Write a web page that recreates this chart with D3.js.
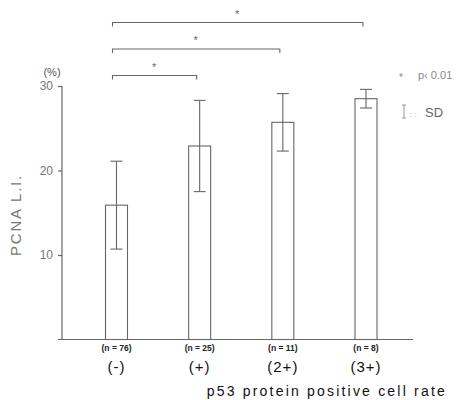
<!DOCTYPE html>
<html>
<head>
<meta charset="utf-8">
<script src="https://cdn.jsdelivr.net/npm/d3@7"></script>
<style>
  body { margin: 0; background: #fff; }
  text { font-family: "Liberation Sans", Arial, sans-serif; }
</style>
</head>
<body>
<div id="chart"></div>
<script>
var w = 460;
var h = 400;

// data
var groups = ["(-)", "(+)", "(2+)", "(3+)"];
var counts = ["(n = 76)", "(n = 25)", "(n = 11)", "(n = 8)"];
var means = [15.9, 22.9, 25.7, 28.5];
var sds = [5.2, 5.4, 3.4, 1.1];
var yTicks = [10, 20, 30];
// significance brackets: [from group, to group]
var pairs = [["(-)", "(3+)"], ["(-)", "(2+)"], ["(-)", "(+)"]];

var ink = "#666";

var svg = d3.select("#chart").append("svg")
  .attr("width", w)
  .attr("height", h);

var y = d3.scaleLinear().domain([0, 30]).range([339.5, 86]);
var x = d3.scalePoint().domain(groups).range([116.5, 366]);
var barW = 22;

// y axis
var yAxis = d3.axisLeft(y).tickValues(yTicks).tickSize(4).tickPadding(5);
var gy = svg.append("g")
  .attr("transform", "translate(62,0)")
  .call(yAxis);
gy.select(".domain").remove();
gy.append("line")
  .attr("x1", 0).attr("x2", 0)
  .attr("y1", y(30)).attr("y2", y(0))
  .attr("stroke", ink).attr("stroke-width", 1.2);
gy.selectAll(".tick line").attr("stroke", ink).attr("stroke-width", 1.2);
gy.selectAll(".tick text")
  .attr("fill", "#777")
  .style("font-size", "12px");

// baseline
svg.append("line")
  .attr("x1", 58).attr("x2", 413)
  .attr("y1", y(0)).attr("y2", y(0))
  .attr("stroke", ink).attr("stroke-width", 1.2);

svg.append("text")
  .attr("x", 52).attr("y", 76)
  .attr("text-anchor", "middle")
  .attr("fill", "#555")
  .style("font-size", "11px")
  .text("(%)");

svg.append("text")
  .attr("transform", "translate(21,215) rotate(-90)")
  .attr("text-anchor", "middle")
  .attr("fill", "#777")
  .style("font-size", "15px")
  .style("letter-spacing", "1.8px")
  .text("PCNA L.I.");

// bars
svg.selectAll("rect.bar")
  .data(means)
  .enter()
  .append("rect")
  .attr("class", "bar")
  .attr("x", function(d, i) { return x(groups[i]) - barW / 2; })
  .attr("y", function(d) { return y(d); })
  .attr("width", barW)
  .attr("height", function(d) { return y(0) - y(d); })
  .attr("fill", "none")
  .attr("stroke", ink)
  .attr("stroke-width", 1.1);

// error bars
var err = svg.selectAll("g.err")
  .data(means)
  .enter()
  .append("g")
  .attr("class", "err");
err.append("line")
  .attr("x1", function(d, i) { return x(groups[i]); })
  .attr("x2", function(d, i) { return x(groups[i]); })
  .attr("y1", function(d, i) { return y(d + sds[i]); })
  .attr("y2", function(d, i) { return y(d - sds[i]); })
  .attr("stroke", ink).attr("stroke-width", 1.1);
[1, -1].forEach(function(s) {
  err.append("line")
    .attr("x1", function(d, i) { return x(groups[i]) - 6; })
    .attr("x2", function(d, i) { return x(groups[i]) + 6; })
    .attr("y1", function(d, i) { return y(d + s * sds[i]); })
    .attr("y2", function(d, i) { return y(d + s * sds[i]); })
    .attr("stroke", ink).attr("stroke-width", 1.1);
});

// group labels
svg.selectAll("text.n")
  .data(counts)
  .enter()
  .append("text")
  .attr("class", "n")
  .attr("x", function(d, i) { return x(groups[i]); })
  .attr("y", 351)
  .attr("text-anchor", "middle")
  .attr("fill", "#222")
  .style("font-size", "8.5px")
  .style("font-weight", "bold")
  .text(function(d) { return d; });

svg.selectAll("text.grp")
  .data(groups)
  .enter()
  .append("text")
  .attr("class", "grp")
  .attr("x", function(d) { return x(d); })
  .attr("y", 372)
  .attr("text-anchor", "middle")
  .attr("fill", "#111")
  .style("font-size", "15px")
  .style("letter-spacing", "1px")
  .text(function(d) { return d; });

svg.append("text")
  .attr("x", 447).attr("y", 396)
  .attr("text-anchor", "end")
  .attr("fill", "#111")
  .style("font-size", "14px")
  .style("letter-spacing", "2.2px")
  .text("p53 protein positive cell rate");

// significance brackets
var bracketY = [22.5, 49, 75.5];
var br = svg.selectAll("g.br")
  .data(pairs)
  .enter()
  .append("g")
  .attr("class", "br");
br.append("path")
  .attr("d", function(d, i) {
    var x0 = x(d[0]) - 4, x1 = x(d[1]) - 3, yy = bracketY[i];
    return "M" + x0 + "," + (yy + 4) + "V" + yy + "H" + x1 + "V" + (yy + 4);
  })
  .attr("fill", "none")
  .attr("stroke", ink)
  .attr("stroke-width", 1.1);
br.append("text")
  .attr("x", function(d) { return (x(d[0]) + x(d[1])) / 2 - 4; })
  .attr("y", function(d, i) { return bracketY[i] - 5; })
  .attr("text-anchor", "middle")
  .attr("fill", "#666")
  .style("font-size", "11px")
  .text("*");

// legend
svg.append("text")
  .attr("x", 401).attr("y", 81)
  .attr("text-anchor", "middle")
  .attr("fill", "#888")
  .style("font-size", "10px")
  .text("*");
svg.append("text")
  .attr("x", 418).attr("y", 79)
  .attr("fill", "#888")
  .style("font-size", "11px")
  .text("p\u2039 0.01");
var lg = svg.append("g").attr("stroke", "#999").attr("stroke-width", 1);
lg.append("line").attr("x1", 404).attr("x2", 404).attr("y1", 105).attr("y2", 118);
lg.append("line").attr("x1", 402).attr("x2", 406).attr("y1", 105).attr("y2", 105);
lg.append("line").attr("x1", 402).attr("x2", 406).attr("y1", 118).attr("y2", 118);
svg.append("text")
  .attr("x", 410).attr("y", 117)
  .attr("fill", "#aaa")
  .style("font-size", "8px")
  .text(": :");
svg.append("text")
  .attr("x", 425).attr("y", 117)
  .attr("fill", "#666")
  .style("font-size", "13px")
  .text("SD");
</script>
</body>
</html>
